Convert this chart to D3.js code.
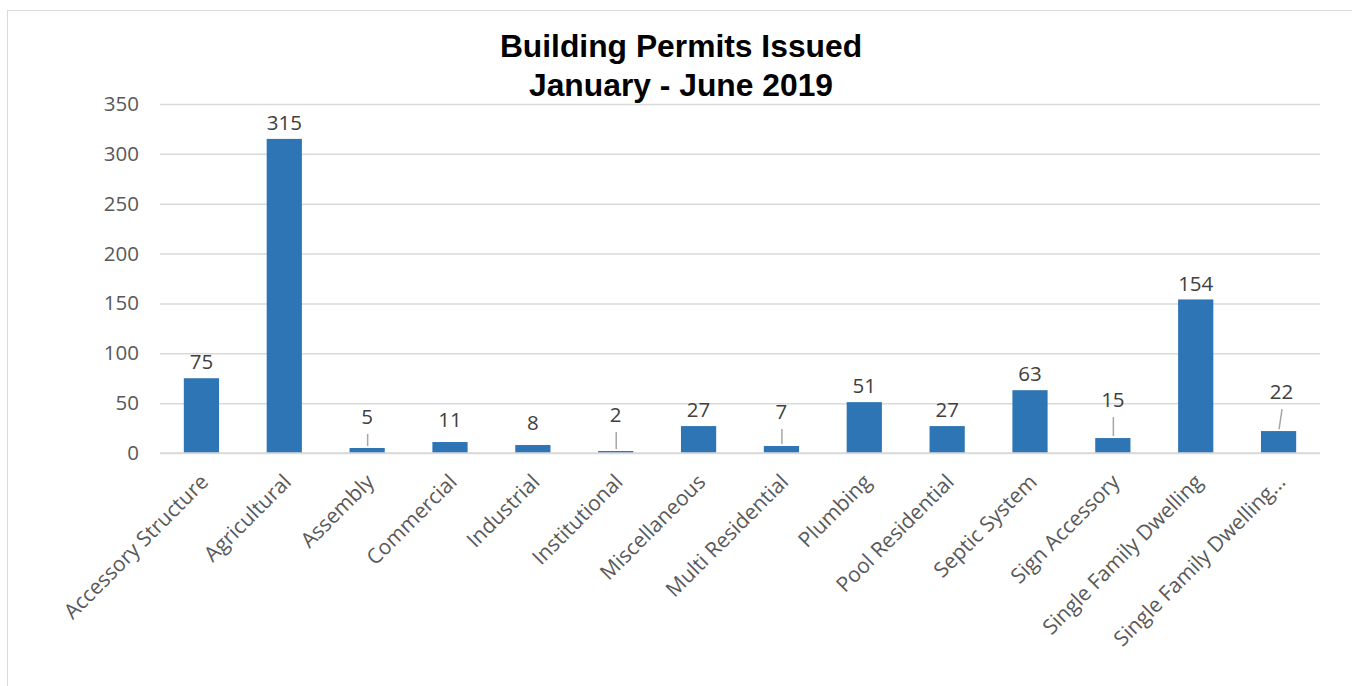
<!DOCTYPE html>
<html>
<head>
<meta charset="utf-8">
<script src="https://cdn.jsdelivr.net/npm/d3@7"></script>
<style>
  body { margin: 0; background: #fff; }
  svg { display: block; }
</style>
</head>
<body>
<div id="chart"></div>
<script>
// Data
var categories = ["Accessory Structure", "Agricultural", "Assembly", "Commercial",
  "Industrial", "Institutional", "Miscellaneous", "Multi Residential", "Plumbing",
  "Pool Residential", "Septic System", "Sign Accessory", "Single Family Dwelling",
  "Single Family Dwelling..."];
var permits = [75, 315, 5, 11, 8, 2, 27, 7, 51, 27, 63, 15, 154, 22];
var yTicks = [0, 50, 100, 150, 200, 250, 300, 350];
var titleLines = ["Building Permits Issued", "January - June 2019"];

var width = 1352,
    height = 686,
    margin = {top: 104, right: 32, bottom: 233, left: 160};

var svg = d3.select("#chart")
  .append("svg")
  .attr("width", width)
  .attr("height", height);

// chart frame
svg.append("rect")
  .attr("x", 7.5)
  .attr("y", 10.5)
  .attr("width", width + 20)
  .attr("height", height + 20)
  .attr("fill", "#fff")
  .attr("stroke", "#d9d9d9")
  .attr("stroke-width", 1);

var x = d3.scaleBand()
  .domain(categories)
  .range([margin.left, width - margin.right])
  .paddingInner(0.575)
  .paddingOuter(0.2875);

var y = d3.scaleLinear()
  .domain([0, 350])
  .range([height - margin.bottom, margin.top]);

// title
svg.append("text")
  .attr("x", 681)
  .attr("y", 57)
  .attr("text-anchor", "middle")
  .attr("font-family", "Liberation Sans, Arial, sans-serif")
  .attr("font-weight", "bold")
  .attr("font-size", "31.8px")
  .attr("fill", "#000")
  .selectAll("tspan")
  .data(titleLines)
  .enter()
  .append("tspan")
  .attr("x", 681)
  .attr("dy", function(d, i) { return i === 0 ? 0 : 39; })
  .text(function(d) { return d; });

// gridlines + y labels
var yAxis = d3.axisLeft(y)
  .tickValues(yTicks)
  .tickSize(-(width - margin.left - margin.right))
  .tickPadding(21)
  .tickFormat(d3.format("d"));

var gy = svg.append("g")
  .attr("transform", "translate(" + margin.left + ",0)")
  .call(yAxis);
gy.select(".domain").remove();
gy.selectAll(".tick line")
  .attr("stroke", "#d9d9d9")
  .attr("stroke-width", 1.5);
gy.selectAll(".tick text")
  .attr("font-family", "Open Sans, sans-serif")
  .attr("font-size", "20.5px")
  .attr("fill", "#595959");

// bars
svg.append("g")
  .selectAll("rect")
  .data(permits)
  .enter()
  .append("rect")
  .attr("x", function(d, i) { return x(categories[i]); })
  .attr("y", function(d) { return y(d); })
  .attr("width", x.bandwidth())
  .attr("height", function(d) { return y(0) - y(d); })
  .attr("fill", "#2e75b6");

// baseline over the bars
svg.append("line")
  .attr("x1", margin.left)
  .attr("x2", width - margin.right)
  .attr("y1", y(0))
  .attr("y2", y(0))
  .attr("stroke", "#d9d9d9")
  .attr("stroke-width", 1.5);

// value labels; small bars get lifted labels with a leader line
var leader = {2: 0, 5: 0, 7: 0, 11: 0, 13: 3};
var lift = {2: 31, 5: 36, 7: 34, 11: 38, 13: 39};
var labels = svg.append("g");
permits.forEach(function(v, i) {
  var cx = x(categories[i]) + x.bandwidth() / 2,
      top = y(v),
      ly,
      dx = 0;
  if (leader.hasOwnProperty(i)) {
    dx = leader[i];
    ly = top - lift[i];
    labels.append("line")
      .attr("x1", cx + 0.5)
      .attr("y1", top - 2)
      .attr("x2", cx + dx + 0.5)
      .attr("y2", ly + 17)
      .attr("stroke", "#a6a6a6")
      .attr("stroke-width", 1.5);
  } else {
    ly = top - (v < 15 ? 22 : 16);
  }
  labels.append("text")
    .attr("x", cx + dx)
    .attr("y", ly)
    .attr("dy", "0.35em")
    .attr("text-anchor", "middle")
    .attr("font-family", "Open Sans, sans-serif")
    .attr("font-size", "20.5px")
    .attr("fill", "#404040")
    .text(v);
});

// category labels, rotated
svg.append("g")
  .selectAll("text")
  .data(categories)
  .enter()
  .append("text")
  .attr("transform", function(d) {
    return "translate(" + (x(d) + x.bandwidth() / 2 + 3) + "," + (y(0) + 25) + ") rotate(-45)";
  })
  .attr("text-anchor", "end")
  .attr("dy", "0.35em")
  .attr("font-family", "Open Sans, sans-serif")
  .attr("font-size", "21px")
  .attr("fill", "#595959")
  .text(function(d) { return d; });
</script>
</body>
</html>
